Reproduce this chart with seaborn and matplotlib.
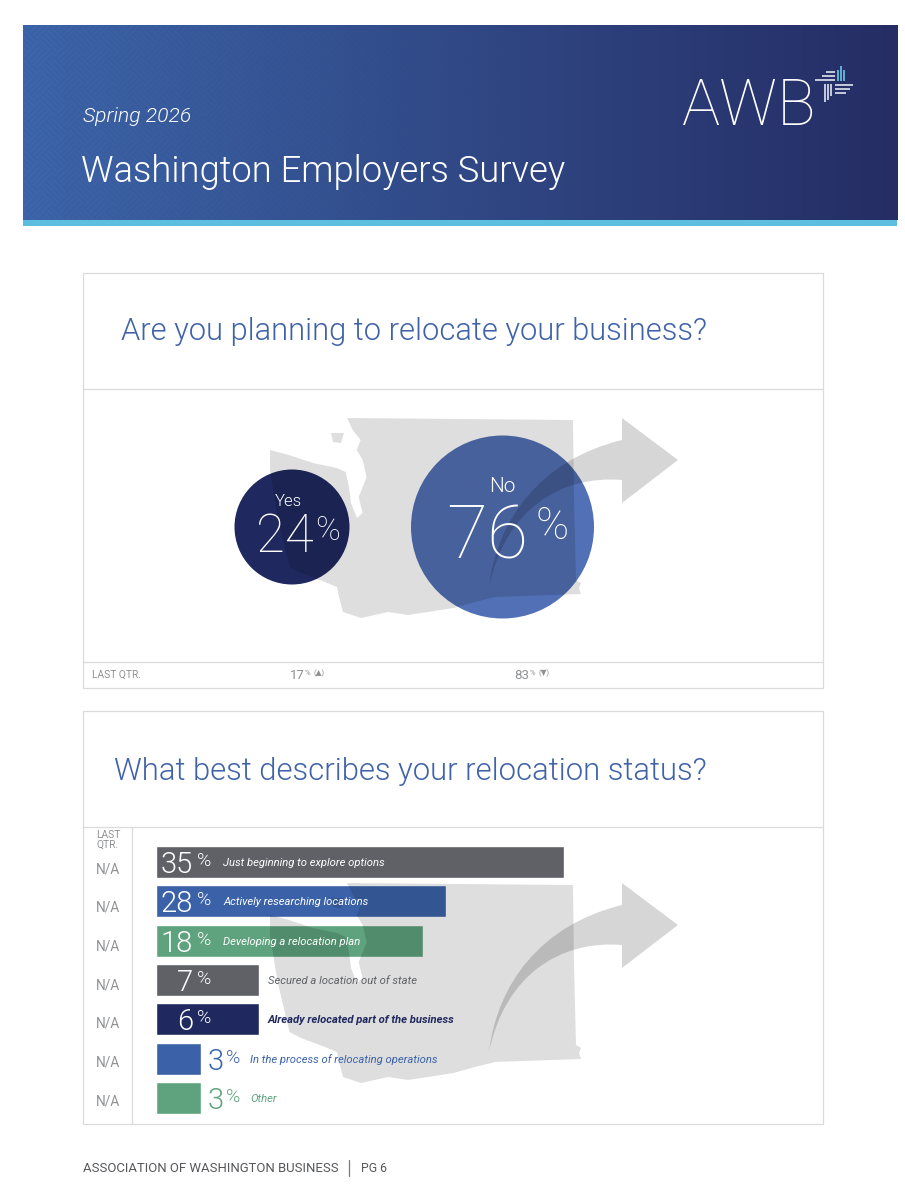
import numpy as np
import pandas as pd
import matplotlib
matplotlib.use("Agg")
import matplotlib.pyplot as plt
import seaborn as sns
from matplotlib.patches import Polygon, Rectangle, PathPatch
from matplotlib.path import Path

# chart values
answers = ["Yes", "No"]
shares = [24, 76]
answer_colors = ["#20295f", "#5270b5"]
last_qtr_shares = ["17", "83"]
last_qtr_marks = ["(▲)", "(▼)"]

statuses = [
    "Just beginning to explore options",
    "Actively researching locations",
    "Developing a relocation plan",
    "Secured a location out of state",
    "Already relocated part of the business",
    "In the process of relocating operations",
    "Other",
]
status_values = [35, 28, 18, 7, 6, 3, 3]
status_last_qtr = ["N/A"] * 7
status_colors = ["#5f6167", "#3b62a8", "#5ea37e", "#5f6167", "#20295f", "#3b62a8", "#5ea37e"]

# the printed bars are not proportional to their labels, so the axis carries that
scale_values = [0, 3, 6, 7, 18, 28, 35]
scale_pixels = [0, 45, 103, 103.5, 267, 290, 408]

W, H = 905, 1200
FONT = ["Roboto", "DejaVu Sans"]
GREY = "#8f9193"
LINE = "#dadada"
TITLE = "#3f62a8"
LIGHT = 300
THIN = 100

sns.set_theme(style="white")
plt.rcParams["font.family"] = FONT


def add_axes(fig, left, top, right, bottom, zorder=1):
    ax = fig.add_axes([left / W, 1 - bottom / H, (right - left) / W, (bottom - top) / H], zorder=zorder)
    ax.patch.set_alpha(0)
    ax.set_axis_off()
    return ax


def fwd(x):
    return np.interp(x, scale_values, scale_pixels)


def inv(x):
    return np.interp(x, scale_pixels, scale_values)


fig = plt.figure(figsize=(W / 100, H / 100), dpi=100)
fig.patch.set_facecolor("white")

# header band, gradient with a faint basket weave on the left
head = add_axes(fig, 23, 25, 897, 220, zorder=0)
yy, xx = np.mgrid[0:195, 0:874]
t = (xx / 873)[..., None]
left_rgb = np.array([0x3c, 0x64, 0xa8]) / 255
right_rgb = np.array([0x25, 0x2d, 0x64]) / 255
img = left_rgb * (1 - t) + right_rgb * t
u, v = xx + yy, xx - yy
cell = (np.floor(u / 30) + np.floor(v / 30)) % 2
weave = np.sin(2 * np.pi * np.where(cell == 0, u, v) / 6)
img = np.clip(img + (weave * 0.008 * np.clip(1 - xx / 560, 0, 1))[..., None], 0, 1)
head.imshow(img, aspect="auto", interpolation="bilinear")
head.set_axis_off()

# bubbles
bub = add_axes(fig, 292, 522, 502.5, 532)
bubble_df = pd.DataFrame({"answer": answers, "share": shares, "row": np.zeros(len(shares))})
sns.scatterplot(data=bubble_df, x="answer", y="row", hue="answer", palette=dict(zip(answers, answer_colors)),
                size="share", sizes={24: 6856, 76: 17360}, linewidth=0, legend=False, clip_on=False, ax=bub)
bub.set_xlim(0, 1)
bub.set_ylim(-1, 1)
bub.set_axis_off()

# bars
BAR_TOP, BAR_PITCH = 842.3, 39.33
bars = add_axes(fig, 155.5, BAR_TOP, 563.5, BAR_TOP + BAR_PITCH * 7)
bar_df = pd.DataFrame({"status": statuses, "value": status_values})
sns.barplot(data=bar_df, x="value", y="status", hue="status", palette=dict(zip(statuses, status_colors)),
            saturation=1, width=0.81, legend=False, orient="h", ax=bars)
bars.set_xscale("function", functions=(fwd, inv))
bars.set_xlim(0, 35)
bars.set_ylim(6.5, -0.5)
bars.set_axis_off()

# everything else sits on a page layer in pixels, on top of the coloured marks
page = add_axes(fig, 0, 0, W, H, zorder=5)
page.set_xlim(0, W)
page.set_ylim(H, 0)

page.add_patch(Rectangle((23, 220), 874, 6, fc="#5dbfe0", ec="none"))

# panels
for x0, y0, x1, y1 in [(83, 273, 823, 688), (83, 711, 823, 1124)]:
    page.add_patch(Rectangle((x0, y0), x1 - x0, y1 - y0, fc="none", ec=LINE, lw=0.9))
for y in [389, 662, 826.5]:
    page.plot([83, 823], [y, y], color=LINE, lw=0.9)
page.plot([132, 132], [826.5, 1124], color=LINE, lw=0.9)

# state outline and arrow, black at low alpha so they darken what is beneath
state = [(347, 418), (573, 420), (574, 500), (576, 580), (581, 583), (579, 588), (581, 594), (495, 597),
         (475, 602), (453.5, 608), (428, 612), (408, 615), (388, 612), (361, 618), (343, 612), (339, 597),
         (337, 587), (325, 582), (301, 573), (289.5, 567), (277.6, 517), (270, 470), (270, 450), (289, 455),
         (313, 463), (337, 468), (345.6, 472), (349, 487), (351, 503), (357, 518), (362.6, 513), (358.7, 497),
         (366.6, 477), (362.6, 460), (356.7, 450), (360.6, 440), (352.7, 430)]
island = [(331, 433), (344, 433), (341, 443), (333, 442)]
arrow_codes = [Path.MOVETO, Path.CURVE4, Path.CURVE4, Path.CURVE4, Path.LINETO, Path.LINETO, Path.LINETO,
               Path.LINETO, Path.CURVE4, Path.CURVE4, Path.CURVE4]
arrow = [(489, 587), (497, 520), (540, 460), (622, 440), (622, 418), (678, 460), (622, 503),
         (622, 480), (560, 475), (505, 510), (489, 587)]
for dy in [0, 465]:
    page.add_patch(Polygon([(x, y + dy) for x, y in state], fc="black", alpha=0.13, ec="none"))
    page.add_patch(Polygon([(x, y + dy) for x, y in island], fc="black", alpha=0.13, ec="none"))
    page.add_patch(PathPatch(Path([(x, y + dy) for x, y in arrow], arrow_codes), fc="black", alpha=0.16, ec="none"))

# header text
page.text(83, 116, "Spring 2026", color="white", fontsize=15.2, style="italic", weight=LIGHT, va="center")
page.text(81, 172, "Washington Employers Survey", color="white", fontsize=26.2, weight=LIGHT, va="center")
page.text(749, 107, "AWB", color="white", fontsize=46, weight=THIN, ha="center", va="center")
for x0, x1, y in [(815, 835, 80), (822, 835, 76), (826, 835, 72), (835, 853, 85), (835, 850, 89), (835, 846, 93)]:
    page.plot([x0, x1], [y, y], color="#dfe6f2", lw=1.2, solid_capstyle="butt")
for x, y0, y1 in [(838, 70, 81), (841, 66, 81), (844, 70, 81)]:
    page.plot([x, x], [y0, y1], color="#6fc6e6", lw=1.2, solid_capstyle="butt")
for x, y0, y1 in [(825, 84, 102), (828, 84, 100), (831, 84, 96)]:
    page.plot([x, x], [y0, y1], color="#dfe6f2", lw=1.2, solid_capstyle="butt")

# panel titles
page.text(121, 332, "Are you planning to relocate your business?", color=TITLE, fontsize=22.2, weight=LIGHT, va="center")
page.text(114, 772, "What best describes your relocation status?", color=TITLE, fontsize=22.3, weight=LIGHT, va="center")

# bubble text
page.text(288, 501, answers[0], color="white", fontsize=12, weight=LIGHT, ha="center", va="center")
page.text(285, 537, f"{shares[0]}", color="white", fontsize=38, weight=THIN, ha="center", va="center")
page.text(328, 531, "%", color="white", fontsize=24, weight=THIN, ha="center", va="center")
page.text(502, 486, answers[1], color="white", fontsize=15, weight=LIGHT, ha="center", va="center")
page.text(487, 538, f"{shares[1]}", color="white", fontsize=54, weight=THIN, ha="center", va="center")
page.text(552, 527, "%", color="white", fontsize=32, weight=THIN, ha="center", va="center")

# last quarter strip
page.text(92, 675, "LAST QTR.", color=GREY, fontsize=7.4, va="center")
for x, val, mark in zip([297, 522], last_qtr_shares, last_qtr_marks):
    page.text(x, 675.5, val, color=GREY, fontsize=9.5, ha="center", va="center")
    page.text(x + 8, 673, "%", color=GREY, fontsize=5.5, va="center")
    page.text(x + 16, 673, mark, color=GREY, fontsize=5.5, va="center")

# bar labels
page.text(108, 835.5, "LAST", color=GREY, fontsize=7.4, ha="center", va="center")
page.text(108, 844.5, "QTR.", color=GREY, fontsize=7.4, ha="center", va="center")
for i, (name, val, col, lq) in enumerate(zip(statuses, status_values, status_colors, status_last_qtr)):
    y = BAR_TOP + BAR_PITCH * (i + 0.5)
    page.text(108, 869 + 38.67 * i, lq, color=GREY, fontsize=9.8, ha="center", va="center")
    if val >= 18:
        num_col, lab_col, num_r, pct_x, lab_x = "white", "white", 193, 197, 223
    elif val >= 6:
        num_col, lab_col, num_r, pct_x, lab_x = "white", col, 193, 197, 268
    else:
        num_col, lab_col, num_r, pct_x, lab_x = col, col, 224, 226, 250
    page.text(num_r, y + 3, f"{val}", color=num_col, fontsize=21, weight=LIGHT, ha="right", va="center")
    page.text(pct_x, y - 1, "%", color=num_col, fontsize=14, weight=LIGHT, ha="left", va="center")
    page.text(lab_x, y + 1, name, color=lab_col, fontsize=8.1, style="italic", va="center",
              weight="bold" if col == "#20295f" else "normal")

# page footer
page.text(83, 1168.5, "ASSOCIATION OF WASHINGTON BUSINESS", color="#55575a", fontsize=9.45, va="center")
page.plot([349, 349], [1160, 1176], color="#77797c", lw=0.9)
page.text(361, 1168.5, "PG 6", color="#55575a", fontsize=8.8, va="center")

fig.savefig("out.png", dpi=100)
